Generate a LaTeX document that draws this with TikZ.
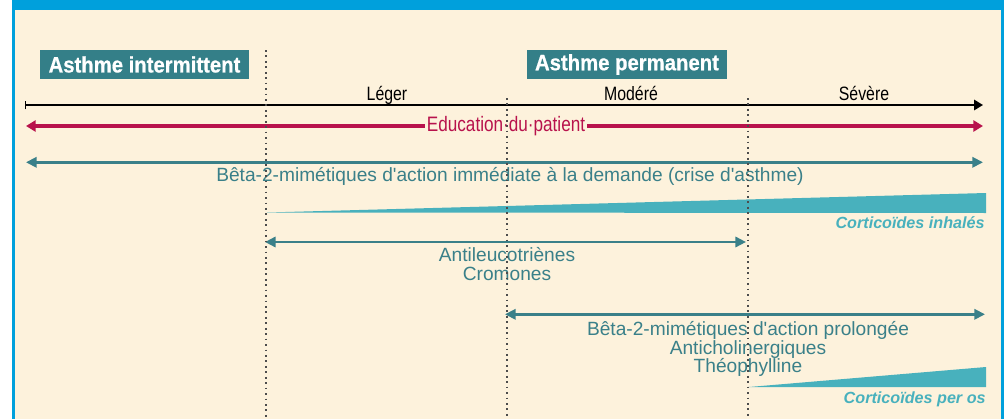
\documentclass[tikz,border=0pt]{standalone}
\usepackage{fontspec}
\setmainfont{Liberation Sans}[Ligatures=TeXOff]
\newfontfamily\condfont[FakeStretch=0.82,Ligatures=TeXOff]{Liberation Sans}
\newfontfamily\stagefont[FakeStretch=0.91,FakeBold=0.6]{Liberation Sans Bold}
\usetikzlibrary{arrows.meta}

\definecolor{frameblue}{HTML}{00A0DC}
\definecolor{paper}{HTML}{FDF2DC}
\definecolor{stageteal}{HTML}{347F88}
\definecolor{drugteal}{HTML}{3A8089}
\definecolor{doseteal}{HTML}{48B1BD}
\definecolor{educred}{HTML}{B8124C}

\tikzset{
  stage/.style={fill=stageteal,text=white,inner sep=0pt,minimum height=0.58cm,
    font=\stagefont\fontsize{12.7}{14}\selectfont},
  grade/.style={anchor=base,inner sep=0pt,font=\condfont\fontsize{11}{13}\selectfont},
  limit/.style={draw=black!70,line width=1pt,dash pattern=on 1pt off 2.1pt},
  drugline/.style={draw=drugteal,line width=1.4pt,
    {Triangle[length=6pt,width=5.8pt]}-{Triangle[length=6pt,width=5.8pt]}},
  druglabel/.style={text=drugteal,anchor=north,align=center,inner sep=0pt,
    font=\fontsize{10.9}{10.6}\selectfont},
  dose/.style={fill=doseteal},
  doselabel/.style={text=doseteal,anchor=north east,inner sep=0pt,
    font=\bfseries\itshape\fontsize{9.2}{10}\selectfont}
}

\begin{document}
\begin{tikzpicture}[x=0.02cm,y=-0.02cm]
  \useasboundingbox (0,0) rectangle (1005,419);
  % frame
  \fill[white] (0,0) rectangle (1005,419);
  \fill[frameblue] (12,0) rectangle (1004,419);
  \fill[paper] (15,10) rectangle (1000.5,419);

  % stages
  \node[stage,minimum width=4.18cm] (inter) at (144.5,64.5) {Asthme intermittent};
  \node[stage,minimum width=4cm] (perm) at (627,64.5) {Asthme permanent};

  % severity axis
  \coordinate (axisL) at (25,105);
  \coordinate (axisR) at (983,105);
  \draw[line width=1.1pt,{Bar[width=5pt,line width=0.8pt]}-{Triangle[length=5pt,width=5.8pt]}]
    (axisL) -- (axisR);
  \node[grade] (leger) at (387,100) {Léger};
  \node[grade] (modere) at (631,100) {Modéré};
  \node[grade] (severe) at (864,100) {Sévère};

  % education
  \coordinate (educL) at (26,126);
  \coordinate (educR) at (983,126);
  \draw[educred,line width=2.5pt,
    {Triangle[length=5.5pt,width=6.3pt]}-{Triangle[length=5.5pt,width=6.3pt]}]
    (educL) -- (educR);
  \node[fill=paper,text=educred,inner xsep=1pt,inner ysep=0pt,
    font=\condfont\fontsize{11.9}{13}\selectfont] (educ) at (506,126)
    {Education·du·patient};

  % crisis relief
  \coordinate (reliefL) at (26,162.3);
  \coordinate (reliefR) at (983,162.3);
  \draw[drugline] (reliefL) -- (reliefR);
  \node[druglabel] (relief) at (510,167)
    {Bêta-2-mimétiques d'action immédiate à la demande (crise d'asthme)};

  % inhaled corticoids
  \fill[dose] (267,212.5) -- (986,193) -- (986,213) -- cycle;
  \node[doselabel] (inhal) at (985,216) {Corticoïdes inhalés};

  % light
  \coordinate (lightL) at (265,242);
  \coordinate (lightR) at (746,242);
  \draw[drugline] (lightL) -- (lightR);
  \node[druglabel] (light) at (507,247) {Antileucotriènes\\Cromones};

  % long acting
  \coordinate (longL) at (505,314.3);
  \coordinate (longR) at (985,314.3);
  \draw[drugline] (longL) -- (longR);
  \node[druglabel] (long) at (748,321)
    {Bêta-2-mimétiques d'action prolongée\\Anticholinergiques\\Théophylline};

  % oral corticoids
  \fill[dose] (749,387) -- (986,367) -- (986,387) -- cycle;
  \node[doselabel] (peros) at (986,391) {Corticoïdes per os};

  % stage limits
  \draw[limit] (266,50) -- (266,419);
  \draw[limit] (507,98) -- (507,419);
  \draw[limit] (748,98) -- (748,419);
\end{tikzpicture}
\end{document}
